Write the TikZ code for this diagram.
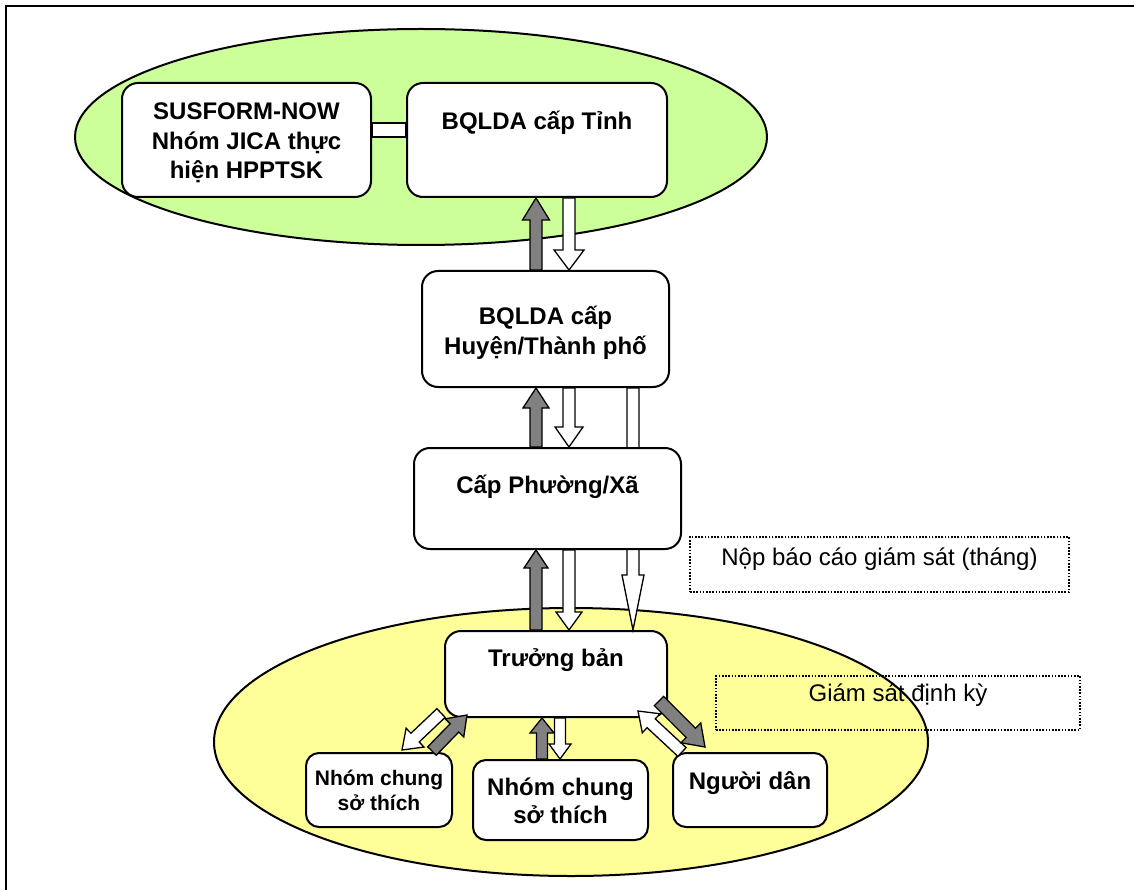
\documentclass[tikz,border=0pt]{standalone}
\usepackage{fontspec}
\setmainfont{Liberation Sans}
\usetikzlibrary{calc,shapes.geometric}

\definecolor{zonegreen}{HTML}{CCFF99}
\definecolor{zoneyellow}{HTML}{FFFF99}
\definecolor{flowgray}{HTML}{808080}

% block arrow: style, tail, tip, shaft half-width, head half-width, head length
\newcommand\flowarrow[6]{%
  \coordinate (fa-head) at ($(#3)!#6!(#2)$);
  \draw[#1] ($(#2)!#4!90:(#3)$) -- ($(fa-head)!#4!90:(#3)$) -- ($(fa-head)!#5!90:(#3)$)
    -- (#3) -- ($(fa-head)!#5!-90:(#3)$) -- ($(fa-head)!#4!-90:(#3)$) -- ($(#2)!#4!-90:(#3)$) -- cycle;
}

\tikzset{
  box/.style={draw=black, line width=2pt, fill=white, rounded corners=16pt, inner sep=0pt},
  zone/.style={draw=black, line width=2pt, ellipse, inner sep=0pt},
  note/.style={draw=black, line width=1.6pt, dash pattern=on 1.6pt off 1.6pt, inner sep=0pt},
  lbl/.style={font=\fontsize{24}{29.5}\selectfont\bfseries, align=center, inner sep=0pt},
  lblsmall/.style={font=\fontsize{21}{25}\selectfont\bfseries, align=center, inner sep=0pt},
  notetext/.style={font=\fontsize{24}{29}\selectfont, inner sep=0pt},
  upflow/.style={draw=black, line width=1.3pt, fill=flowgray},
  downflow/.style={draw=black, line width=1.3pt, fill=white},
  link/.style={draw=black, line width=1.5pt, fill=white},
}

\begin{document}
\begin{tikzpicture}[x=1pt,y=-1pt]
\useasboundingbox (0,0) rectangle (1134,890);
\fill[white] (0,0) rectangle (1134,890);
\draw[line width=2pt] (6,890) -- (6,6) -- (1134,6);

% zones
\node[zone, fill=zonegreen, minimum width=692pt, minimum height=216pt] (upper) at (421,137) {};
\node[zone, fill=zoneyellow, minimum width=714pt, minimum height=268pt] (lower) at (571,742) {};

% columns of the vertical flows
\coordinate (colG) at (536,0);
\coordinate (colW) at (569,0);
\coordinate (colT) at (633,0);
\coordinate (colMG) at (542,0);
\coordinate (colMW) at (560,0);

% boxes
\node[box, minimum width=249pt, minimum height=114pt] (sus) at (246.5,140) {};
\node[lbl] (sustext) at ($(sus.center)+(0,3)$) {SUSFORM-NOW\\Nhóm JICA thực\\hiện HPPTSK};
\node[box, minimum width=260pt, minimum height=114pt] (tinh) at (537,140) {};
\node[lbl] (tinhtext) at ($(tinh.center)+(0,-17)$) {BQLDA cấp Tỉnh};
\draw[link] ($(sus.east)+(0,-17)$) rectangle ($(tinh.west)+(0,-3)$);

\node[box, minimum width=247pt, minimum height=116pt] (huyen) at (545.5,329) {};
\node[lbl] (huyentext) at ($(huyen.center)+(0,4)$) {BQLDA cấp\\Huyện/Thành phố};

\node[box, minimum width=222pt, minimum height=86pt] (truong) at (556,674) {};
\node[lbl] (truongtext) at ($(truong.center)+(0,-14)$) {Trưởng bản};

% province <-> district
\coordinate (a1s) at (huyen.north -| colG);
\coordinate (a1e) at (tinh.south -| colG);
\flowarrow{upflow}{a1s}{a1e}{6pt}{13.5pt}{22pt}
\coordinate (a2s) at (tinh.south -| colW);
\coordinate (a2e) at (huyen.north -| colW);
\flowarrow{downflow}{a2s}{a2e}{6pt}{15pt}{20pt}

% district straight down to the village head
\coordinate (a5s) at (huyen.south -| colT);
\coordinate (a5e) at (truong.north -| colT);
\flowarrow{downflow}{a5s}{a5e}{6pt}{11pt}{55pt}

\node[box, minimum width=267pt, minimum height=101pt] (phuong) at (547.5,498.5) {};
\node[lbl] (phuongtext) at ($(phuong.center)+(0,-11.5)$) {Cấp Phường/Xã};

% district <-> commune
\coordinate (a3s) at (phuong.north -| colG);
\coordinate (a3e) at (huyen.south -| colG);
\flowarrow{upflow}{a3s}{a3e}{6pt}{13pt}{20pt}
\coordinate (a4s) at (huyen.south -| colW);
\coordinate (a4e) at (phuong.north -| colW);
\flowarrow{downflow}{a4s}{a4e}{6pt}{14pt}{20pt}

% commune <-> village head
\coordinate (a6s) at (truong.north -| colG);
\coordinate (a6e) at (phuong.south -| colG);
\flowarrow{upflow}{a6s}{a6e}{6pt}{12pt}{18pt}
\coordinate (a7s) at (phuong.south -| colW);
\coordinate (a7e) at (truong.north -| colW);
\flowarrow{downflow}{a7s}{a7e}{6pt}{13pt}{18pt}

% lower groups
\node[box, rounded corners=13pt, minimum width=146pt, minimum height=74pt] (grpa) at (379,790) {};
\node[lblsmall] (grpatext) at (grpa.center) {Nhóm chung\\sở thích};
\node[box, rounded corners=13pt, minimum width=175pt, minimum height=80pt] (grpb) at (560.5,800) {};
\node[lbl, font=\fontsize{24}{28}\selectfont\bfseries] (grpbtext) at ($(grpb.center)+(0,1)$) {Nhóm chung\\sở thích};
\node[box, rounded corners=13pt, minimum width=154pt, minimum height=74pt] (nguoi) at (750,790) {};
\node[lbl] (nguoitext) at ($(nguoi.center)+(0,-7)$) {Người dân};

% village head <-> groups
\coordinate (b1s) at ($(truong.south west)+(-3,-5)$);
\coordinate (b1e) at ($(grpa.north)+(23,-2)$);
\flowarrow{downflow}{b1s}{b1e}{6pt}{13pt}{18pt}
\coordinate (b2s) at ($(grpa.north east)+(-21,-1)$);
\coordinate (b2e) at ($(truong.south west)+(23,-3)$);
\flowarrow{upflow}{b2s}{b2e}{6pt}{13pt}{18pt}

\coordinate (b3s) at (grpb.north -| colMG);
\coordinate (b3e) at (truong.south -| colMG);
\flowarrow{upflow}{b3s}{b3e}{5.5pt}{12pt}{15pt}
\coordinate (b4s) at (truong.south -| colMW);
\coordinate (b4e) at (grpb.north -| colMW);
\flowarrow{downflow}{b4s}{b4e}{5.5pt}{11pt}{15pt}

\coordinate (b5s) at ($(nguoi.north west)+(10,0)$);
\coordinate (b5e) at ($(truong.south east)+(-30,-7)$);
\flowarrow{downflow}{b5s}{b5e}{6pt}{13pt}{18pt}
\coordinate (b6s) at ($(truong.south east)+(-9,-17)$);
\coordinate (b6e) at ($(nguoi.north west)+(33,-5)$);
\flowarrow{upflow}{b6s}{b6e}{6.5pt}{14pt}{20pt}

% notes
\node[note, minimum width=379pt, minimum height=55pt] (note1) at (879.5,564.5) {};
\node[notetext] (note1text) at ($(note1.center)+(0,-5)$) {Nộp báo cáo giám sát (tháng)};
\node[note, minimum width=364pt, minimum height=54pt] (note2) at (898,703) {};
\node[notetext] (note2text) at ($(note2.center)+(0,-8)$) {Giám sát định kỳ};
\end{tikzpicture}
\end{document}
